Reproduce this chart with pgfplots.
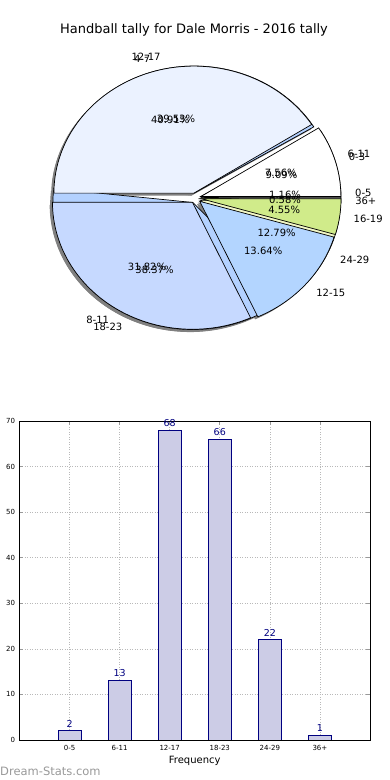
\documentclass[border=0pt]{standalone}
\usepackage{fontspec}
\setmainfont{DejaVu Sans}
\usepackage{pgfplots}
\pgfplotsset{compat=1.18}

% colours of the first pie (bar-chart data) and of the second pie
\definecolor{A1}{HTML}{FFFFFF}
\definecolor{A2}{HTML}{FFFFFF}
\definecolor{A3}{HTML}{B3D1FF}
\definecolor{A4}{HTML}{B3D1FF}
\definecolor{A5}{HTML}{F2F7C6}
\definecolor{A6}{HTML}{FFFFFF}
\definecolor{B1}{HTML}{FFFFFF}
\definecolor{B2}{HTML}{EBF2FF}
\definecolor{B3}{HTML}{C6D9FF}
\definecolor{B4}{HTML}{B3D5FF}
\definecolor{B5}{HTML}{D0EB8A}
\definecolor{barfill}{HTML}{CCCCE6}
\definecolor{navy}{HTML}{000080}
\definecolor{wm}{HTML}{999999}

\newcommand\pieprep[3]{%
  \xdef\cum{0}%
  \foreach \v/\nm [count=\i] in {#3} {%
    \pgfmathsetmacro\wS{\cum}%
    \pgfmathsetmacro\wE{\cum+(\v/#2)*360}%
    \pgfmathsetmacro\wM{(\wS+\wE)/2}%
    \pgfmathsetmacro\ccx{0.04*cos(\wM)}%
    \pgfmathsetmacro\ccy{0.04*sin(\wM)}%
    \pgfmathsetmacro\ppx{\ccx+cos(\wS)}%
    \pgfmathsetmacro\ppy{\ccy+sin(\wS)}%
    \pgfmathsetmacro\hhx{\ccx-0.02}%
    \pgfmathsetmacro\hhy{\ccy-0.02}%
    \pgfmathsetmacro\qqx{\ppx-0.02}%
    \pgfmathsetmacro\qqy{\ppy-0.02}%
    \pgfmathsetmacro\llx{1.14*cos(\wM)}%
    \pgfmathsetmacro\lly{1.14*sin(\wM)}%
    \pgfmathsetmacro\ttx{0.64*cos(\wM)}%
    \pgfmathsetmacro\tty{0.64*sin(\wM)}%
    \pgfmathsetmacro\ppct{\v*100/#2}%
    \pgfmathtruncatemacro\isneg{cos(\wM)<0}%
    \expandafter\xdef\csname #1S\i\endcsname{\wS}%
    \expandafter\xdef\csname #1E\i\endcsname{\wE}%
    \expandafter\xdef\csname #1cx\i\endcsname{\ccx}%
    \expandafter\xdef\csname #1cy\i\endcsname{\ccy}%
    \expandafter\xdef\csname #1px\i\endcsname{\ppx}%
    \expandafter\xdef\csname #1py\i\endcsname{\ppy}%
    \expandafter\xdef\csname #1hx\i\endcsname{\hhx}%
    \expandafter\xdef\csname #1hy\i\endcsname{\hhy}%
    \expandafter\xdef\csname #1qx\i\endcsname{\qqx}%
    \expandafter\xdef\csname #1qy\i\endcsname{\qqy}%
    \expandafter\xdef\csname #1lx\i\endcsname{\llx}%
    \expandafter\xdef\csname #1ly\i\endcsname{\lly}%
    \expandafter\xdef\csname #1tx\i\endcsname{\ttx}%
    \expandafter\xdef\csname #1ty\i\endcsname{\tty}%
    \expandafter\xdef\csname #1p\i\endcsname{\ppct}%
    \expandafter\xdef\csname #1n\i\endcsname{\nm}%
    \ifnum\isneg=1 \expandafter\xdef\csname #1a\i\endcsname{east}%
    \else \expandafter\xdef\csname #1a\i\endcsname{west}\fi
    \xdef\cum{\wE}%
  }%
}

\begin{document}
\begin{tikzpicture}
\path[use as bounding box] (0pt,0pt) rectangle (390pt,780pt);
\pieprep{A}{172}{2/0-5,13/6-11,68/12-17,66/18-23,22/24-29,1/36+}
\pieprep{B}{22}{2/0-3,9/4-7,7/8-11,3/12-15,1/16-19}

% ---------------- pie ----------------
\begin{axis}[at={(195.5pt,582pt)}, anchor=center,
  x=140pt, y=127pt, xmin=-1.2, xmax=1.2, ymin=-1.2, ymax=1.2,
  hide axis, clip=false]
% shadows
\pgfplotsinvokeforeach{1,...,6}{
  \fill[black!50] (axis cs:\csname Ahx#1\endcsname,\csname Ahy#1\endcsname) -- (axis cs:\csname Aqx#1\endcsname,\csname Aqy#1\endcsname)
    arc[start angle=\csname AS#1\endcsname, end angle=\csname AE#1\endcsname, x radius=140pt, y radius=127pt] -- cycle;
}
\pgfplotsinvokeforeach{1,...,5}{
  \fill[black!50] (axis cs:\csname Bhx#1\endcsname,\csname Bhy#1\endcsname) -- (axis cs:\csname Bqx#1\endcsname,\csname Bqy#1\endcsname)
    arc[start angle=\csname BS#1\endcsname, end angle=\csname BE#1\endcsname, x radius=140pt, y radius=127pt] -- cycle;
}
% wedges of first pie
\pgfplotsinvokeforeach{1,...,6}{
  \filldraw[fill=A#1, draw=black, line width=0.7pt, line join=miter] (axis cs:\csname Acx#1\endcsname,\csname Acy#1\endcsname) -- (axis cs:\csname Apx#1\endcsname,\csname Apy#1\endcsname)
    arc[start angle=\csname AS#1\endcsname, end angle=\csname AE#1\endcsname, x radius=140pt, y radius=127pt] -- cycle;
}
% wedges of second pie
\pgfplotsinvokeforeach{1,...,5}{
  \filldraw[fill=B#1, draw=black, line width=0.7pt, line join=miter] (axis cs:\csname Bcx#1\endcsname,\csname Bcy#1\endcsname) -- (axis cs:\csname Bpx#1\endcsname,\csname Bpy#1\endcsname)
    arc[start angle=\csname BS#1\endcsname, end angle=\csname BE#1\endcsname, x radius=140pt, y radius=127pt] -- cycle;
}
% labels
\pgfplotsinvokeforeach{1,...,6}{
  \node[font=\fontsize{10}{12}\selectfont, anchor=\csname Aa#1\endcsname, inner sep=0pt] at (axis cs:\csname Alx#1\endcsname,\csname Aly#1\endcsname) {\csname An#1\endcsname};
  \node[font=\fontsize{10}{12}\selectfont, inner sep=0pt] at (axis cs:\csname Atx#1\endcsname,\csname Aty#1\endcsname) {\pgfmathprintnumber[fixed,fixed zerofill,precision=2,assume math mode=true]{\csname Ap#1\endcsname}\%};
}
\pgfplotsinvokeforeach{1,...,5}{
  \node[font=\fontsize{10}{12}\selectfont, anchor=\csname Ba#1\endcsname, inner sep=0pt] at (axis cs:\csname Blx#1\endcsname,\csname Bly#1\endcsname) {\csname Bn#1\endcsname};
  \node[font=\fontsize{10}{12}\selectfont, inner sep=0pt] at (axis cs:\csname Btx#1\endcsname,\csname Bty#1\endcsname) {\pgfmathprintnumber[fixed,fixed zerofill,precision=2,assume math mode=true]{\csname Bp#1\endcsname}\%};
}
\end{axis}

\node[font=\fontsize{13}{15}\selectfont] at (194pt,750pt) {Handball tally for Dale Morris - 2016 tally};

% ---------------- bar chart ----------------
\begin{axis}[at={(19.5pt,40pt)}, anchor=south west, scale only axis,
  width=350.5pt, height=319pt,
  xmin=-1, xmax=6, ymin=0, ymax=70,
  xtick={0,1,2,3,4,5}, xticklabels={0-5,6-11,12-17,18-23,24-29,36+},
  ytick={0,10,20,30,40,50,60,70},
  xmajorgrids, ymajorgrids,
  grid style={gray!55, line width=0.7pt, dash pattern=on 0.8pt off 1.7pt},
  axis line style={line width=0.8pt},
  tick align=inside, major tick length=3.5pt,
  tick style={gray!80, line width=0.7pt},
  ticklabel style={font=\fontsize{7}{8}\selectfont},
  xticklabel shift=1.5pt, yticklabel shift=1pt,
  xlabel={Frequency},
  xlabel style={font=\fontsize{10}{12}\selectfont, at={(axis description cs:0.5,0)}, anchor=center, yshift=-21pt},
  /pgf/number format/assume math mode=true,
  nodes near coords,
  nodes near coords style={font=\fontsize{9.5}{11}\selectfont, text=navy},
]
\addplot[ybar, bar width=0.46, fill=barfill, draw=navy, line width=0.8pt]
  coordinates {(0,2) (1,13) (2,68) (3,66) (4,22) (5,1)};
\end{axis}

\node[anchor=west, inner sep=0pt, text=wm, font=\fontsize{11.5}{13}\selectfont] at (0pt,9pt) {Dream-Stats.com};
\end{tikzpicture}
\end{document}
